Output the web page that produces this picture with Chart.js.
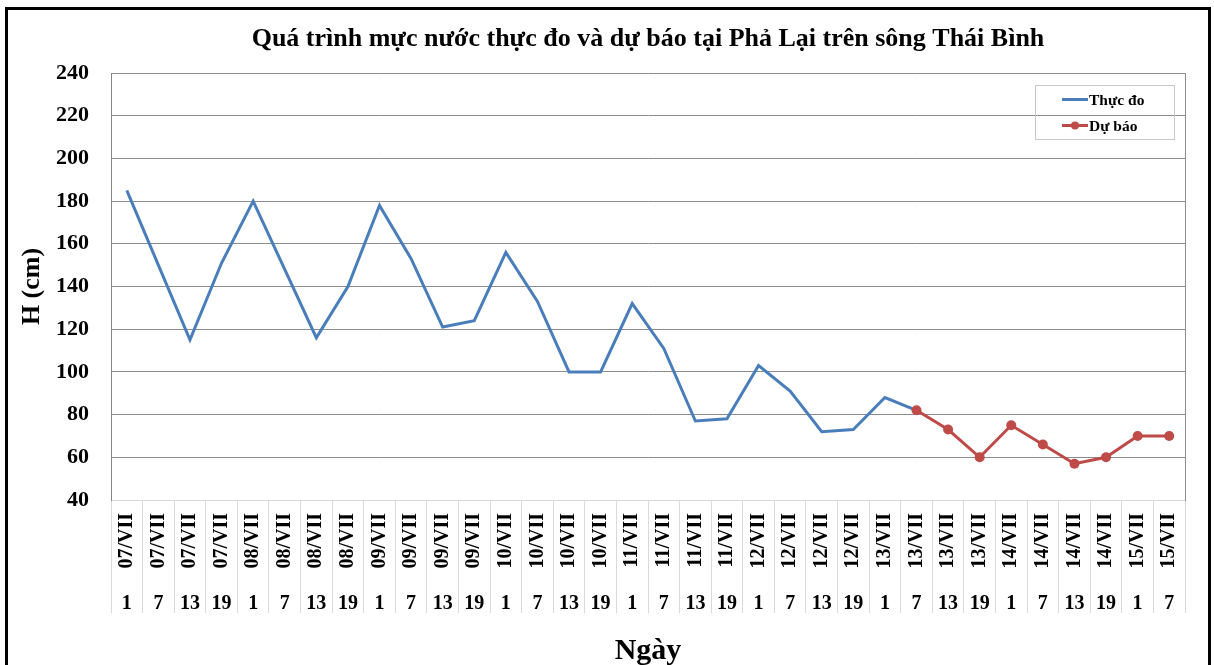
<!DOCTYPE html>
<html>
<head>
<meta charset="utf-8">
<title>Phả Lại</title>
<script src="https://cdn.jsdelivr.net/npm/chart.js@4.4.0/dist/chart.umd.min.js"></script>
<style>
    html, body { margin: 0; padding: 0; background: #fff; }
    #wrap { position: relative; width: 1214px; height: 665px; overflow: hidden; }
    #frame { position: absolute; left: 5px; top: 7px; width: 1200px; height: 700px; border: 3px solid #000; pointer-events: none; }
    canvas { position: absolute; left: 0; top: 0; }
</style>
</head>
<body>
<div id="wrap">
    <canvas id="levelChart" width="1214" height="665"></canvas>
    <div id="frame"></div>
</div>
<script>
// Ngày (dates) and giờ (hours) for each observation slot
const days = [
    '07/VII', '07/VII', '07/VII', '07/VII',
    '08/VII', '08/VII', '08/VII', '08/VII',
    '09/VII', '09/VII', '09/VII', '09/VII',
    '10/VII', '10/VII', '10/VII', '10/VII',
    '11/VII', '11/VII', '11/VII', '11/VII',
    '12/VII', '12/VII', '12/VII', '12/VII',
    '13/VII', '13/VII', '13/VII', '13/VII',
    '14/VII', '14/VII', '14/VII', '14/VII',
    '15/VII', '15/VII'
];
const hours = [
    '1', '7', '13', '19', '1', '7', '13', '19', '1', '7', '13', '19',
    '1', '7', '13', '19', '1', '7', '13', '19', '1', '7', '13', '19',
    '1', '7', '13', '19', '1', '7', '13', '19', '1', '7'
];

// Thực đo (measured), H in cm
const observed = [
    185, 150, 115, 151,
    180, 148, 116, 140,
    178, 153, 121, 124,
    156, 133, 100, 100,
    132, 111, 77, 78,
    103, 91, 72, 73,
    88, 82, null, null,
    null, null, null, null,
    null, null
];

// Dự báo (forecast), H in cm
const forecast = [
    null, null, null, null,
    null, null, null, null,
    null, null, null, null,
    null, null, null, null,
    null, null, null, null,
    null, null, null, null,
    null, 82, 73, 60,
    75, 66, 57, 60,
    70, 70
];

const yTicks = { min: 40, max: 240, step: 20 };

const SERIF = "'Liberation Serif', 'Times New Roman', serif";

// Legend box drawn inside the plot, top right, like the Excel original
const boxLegend = {
    id: 'boxLegend',
    afterDatasetsDraw(chart) {
        const ctx = chart.ctx;
        const area = chart.chartArea;
        const x0 = area.right - 150;
        const y0 = area.top + 12;
        ctx.save();
        ctx.strokeStyle = '#c8c8c8';
        ctx.lineWidth = 1;
        ctx.strokeRect(x0 + 0.5, y0 + 0.5, 139, 54);
        ctx.font = 'bold 15.5px ' + SERIF;
        ctx.textBaseline = 'middle';
        ctx.fillStyle = '#000';
        chart.data.datasets.forEach((ds, i) => {
            const y = y0 + 14.5 + i * 26;
            ctx.strokeStyle = ds.borderColor;
            ctx.lineWidth = 3;
            ctx.beginPath();
            ctx.moveTo(x0 + 27, y);
            ctx.lineTo(x0 + 53, y);
            ctx.stroke();
            if (ds.pointRadius > 0) {
                ctx.fillStyle = ds.backgroundColor;
                ctx.beginPath();
                ctx.arc(x0 + 40, y, 4, 0, Math.PI * 2);
                ctx.fill();
            }
            ctx.fillStyle = '#000';
            ctx.fillText(ds.label, x0 + 54, y + 1);
        });
        ctx.restore();
    }
};

function initChart() {
    const ctx = document.getElementById('levelChart').getContext('2d');

    new Chart(ctx, {
        type: 'line',
        data: {
            labels: days,
            datasets: [{
                label: 'Thực đo',
                data: observed,
                borderColor: '#4a7ebb',
                backgroundColor: '#4a7ebb',
                borderWidth: 3,
                pointRadius: 0,
                tension: 0,
                order: 1
            }, {
                label: 'Dự báo',
                data: forecast,
                borderColor: '#be4b48',
                backgroundColor: '#be4b48',
                borderWidth: 3,
                pointRadius: 5,
                pointBorderWidth: 0,
                pointHoverRadius: 5,
                tension: 0,
                order: 0
            }]
        },
        options: {
            responsive: false,
            animation: false,
            devicePixelRatio: 1,
            layout: { padding: { left: 8, right: 29, top: 10, bottom: 0 } },
            plugins: {
                legend: { display: false },
                tooltip: { enabled: false },
                title: {
                    display: true,
                    fullSize: false,
                    text: 'Quá trình mực nước thực đo và dự báo tại Phả Lại trên sông Thái Bình',
                    color: '#000',
                    font: { family: SERIF, size: 26, weight: 'bold' },
                    padding: { top: 14, bottom: 17.8 }
                }
            },
            scales: {
                x: {
                    type: 'category',
                    position: 'bottom',
                    weight: 0,
                    offset: true,
                    grid: {
                        display: true,
                        drawOnChartArea: false,
                        drawTicks: true,
                        tickLength: 113,
                        offset: true,
                        color: '#d9d9d9'
                    },
                    border: { display: true, color: '#d9d9d9' },
                    ticks: {
                        autoSkip: false,
                        minRotation: 90,
                        maxRotation: 90,
                        padding: -100,
                        color: '#000',
                        font: { family: SERIF, size: 20, weight: 'bold' }
                    },
                    afterFit: (s) => { s.height = 90; }
                },
                x2: {
                    type: 'category',
                    position: 'bottom',
                    weight: 1,
                    labels: hours,
                    offset: true,
                    grid: { display: false, drawTicks: false },
                    border: { display: false },
                    ticks: {
                        autoSkip: false,
                        minRotation: 0,
                        maxRotation: 0,
                        padding: 2,
                        color: '#000',
                        font: { family: SERIF, size: 20, weight: 'bold' }
                    },
                    title: {
                        display: true,
                        text: 'Ngày',
                        color: '#000',
                        font: { family: SERIF, size: 30, weight: 'bold' },
                        padding: { top: 0, bottom: -4 }
                    },
                    afterFit: (s) => { s.height = 75; }
                },
                y: {
                    min: yTicks.min,
                    max: yTicks.max,
                    grid: {
                        drawTicks: false,
                        color: (c) => (c.tick && c.tick.value === yTicks.min) ? '#d9d9d9' : '#8c8c8c'
                    },
                    border: { display: true, color: '#868686' },
                    ticks: {
                        stepSize: yTicks.step,
                        padding: 22,
                        color: '#000',
                        font: { family: SERIF, size: 22, weight: 'bold' }
                    },
                    title: {
                        display: true,
                        text: 'H (cm)',
                        color: '#000',
                        font: { family: SERIF, size: 26, weight: 'bold' },
                        padding: { top: 9, bottom: 0 }
                    },
                    afterFit: (s) => { s.width = 103; }
                },
                yRight: {
                    position: 'right',
                    display: true,
                    grid: { display: false },
                    ticks: { display: false },
                    border: { display: true, color: '#8c8c8c' },
                    afterFit: (s) => { s.width = 0; }
                }
            }
        },
        plugins: [boxLegend]
    });
}

document.addEventListener('DOMContentLoaded', initChart);
</script>
</body>
</html>
